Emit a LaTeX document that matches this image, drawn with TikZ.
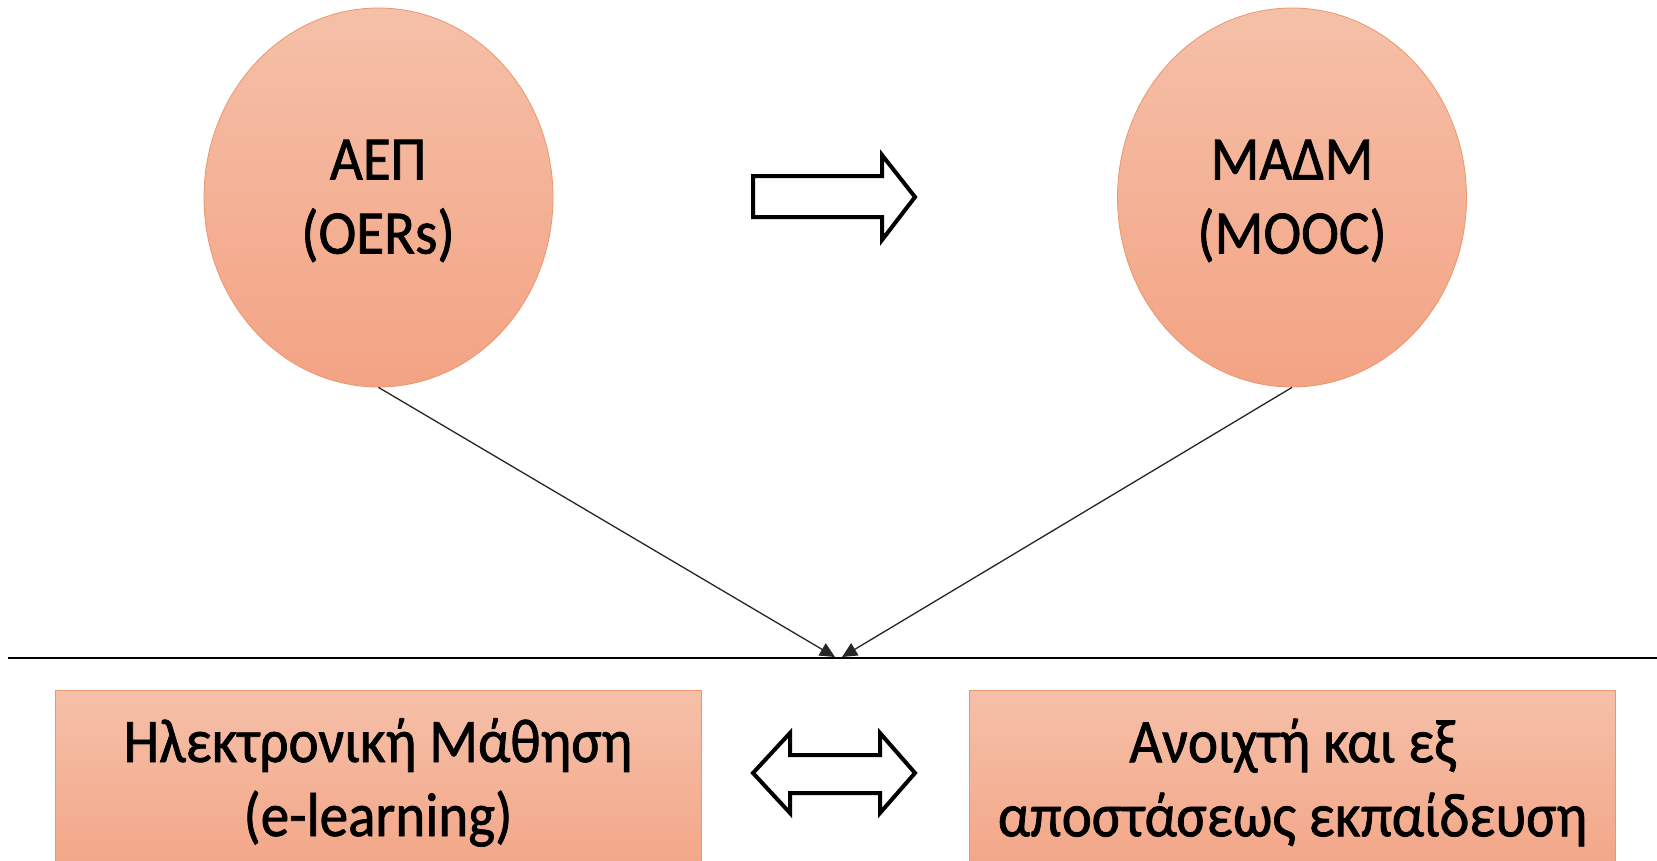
\documentclass[tikz,border=0pt]{standalone}
\usepackage{fontspec}
\setmainfont{Carlito}[FakeStretch=0.92,FakeBold=1.2]
\usetikzlibrary{shapes.geometric,arrows.meta}
\definecolor{salmonTop}{RGB}{245,192,168}
\definecolor{salmonBot}{RGB}{243,163,132}
\definecolor{salmonEdge}{RGB}{236,150,110}
\tikzset{
  bubble/.style={ellipse, draw=salmonEdge, line width=0.8pt, top color=salmonTop, bottom color=salmonBot,
    minimum width=349pt, minimum height=379pt, inner sep=0pt},
  panel/.style={rectangle, draw=salmonEdge, line width=0.8pt, top color=salmonTop, bottom color=salmonBot,
    minimum width=646pt, minimum height=200pt, inner sep=0pt},
  bigtext/.style={align=center, font=\fontsize{62}{74}\selectfont, inner sep=0pt},
  blockarrow/.style={draw=black, line width=4pt, fill=white, line join=miter},
  thin/.style={draw=black!85, line width=1.3pt, -{Triangle[length=15pt,width=14pt]}},
}
\begin{document}
\begin{tikzpicture}[x=1pt,y=-1pt]
\useasboundingbox (0,0) rectangle (1657,860);
\fill[white] (0,0) rectangle (1657,860);
% circles
\node[bubble] (aep) at (378.5,197.5) {};
\node[bubble] (madm) at (1292,197.5) {};
\node[bigtext] (aept) at (378,201) {ΑΕΠ\\(OERs)};
\node[bigtext] (madmt) at (1292,201) {ΜΑΔΜ\\(MOOC)};
% horizontal rule
\coordinate (hl) at (8,658);
\coordinate (hr) at (1657,658);
\draw[line width=1.8pt] (hl) -- (hr);
% converging lines
\coordinate (jl) at (835,657);
\coordinate (jr) at (842,657);
\draw[thin] (aep.south) -- (jl);
\draw[thin] (madm.south) -- (jr);
% bottom panels
\node[panel] (elearn) at (378,790) {};
\node[panel] (odl) at (1292.5,790) {};
\node[bigtext] (elt) at (378,782.5) {Ηλεκτρονική Μάθηση\\(e-learning)};
\node[bigtext] (odlt) at (1292.5,782.5) {Ανοιχτή και εξ\\αποστάσεως εκπαίδευση};
% block arrow top
\coordinate (ta) at (753,197);
\draw[blockarrow] (ta) ++(0,-21) -- ++(129,0) -- ++(0,-21) -- (915,197) -- (882,240) -- ++(0,-23) -- (753,217) -- cycle;
% double arrow bottom
\coordinate (ba) at (753,773);
\draw[blockarrow] (ba) -- (790,733) -- (790,755) -- (880,755) -- (880,733) -- (915,773) -- (880,813) -- (880,793) -- (790,793) -- (790,813) -- cycle;
\end{tikzpicture}
\end{document}
